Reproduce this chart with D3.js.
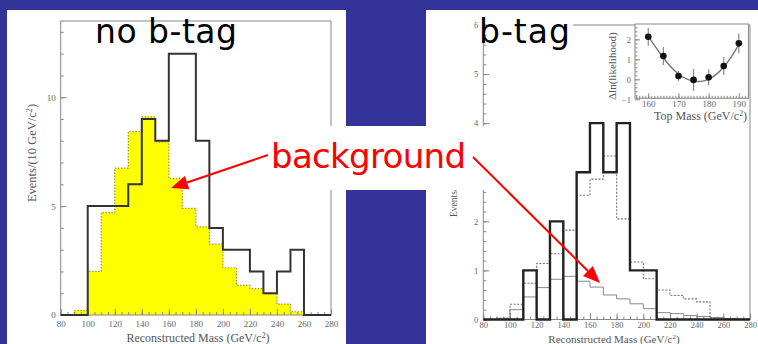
<!DOCTYPE html>
<html lang="en">
<head>
<meta charset="UTF-8">
<title>Reconstructed top mass: no b-tag / b-tag</title>
<script src="https://d3js.org/d3.v7.min.js"></script>
<style>
  body { margin: 0; background: #333399; }
  svg { display: block; }
  .tick text { font-family: "Liberation Serif", "DejaVu Serif", serif; fill: #666; }
  .tick line { stroke: #888; }
  .serif { font-family: "Liberation Serif", "DejaVu Serif", serif; fill: #555; }
  .comic { font-family: "Comic Sans MS", "DejaVu Sans", sans-serif; }
</style>
</head>
<body>
<svg id="chart" width="758" height="344"></svg>
<script>
// bin edges, 10 GeV/c^2 wide
var binEdges = [80, 90, 100, 110, 120, 130, 140, 150, 160, 170, 180, 190, 200, 210, 220, 230, 240, 250, 260, 270, 280];

// left: no b-tag
var noTagData = [0, 0, 5, 5, 5, 6, 9, 8, 12, 12, 8, 4, 3, 3, 2, 1, 2, 3, 0, 0];
var noTagBkg  = [0, 0.2, 2.0, 4.7, 6.74, 8.42, 9.1, 7.95, 6.27, 4.9, 4.05, 3.25, 2.17, 1.36, 1.21, 0.98, 0.5, 0.15, 0, 0];

// right: b-tag
var tagData     = [0, 0, 0, 1, 0, 2, 0, 3, 4, 3, 4, 1, 1, 0, 0, 0, 0, 0, 0, 0];
var tagExpected = [0, 0.03, 0.31, 0.74, 1.14, 1.34, 1.82, 2.53, 2.86, 3.33, 2.05, 1.17, 0.83, 0.6, 0.49, 0.42, 0.36, 0.02, 0.01, 0];
var tagBkg      = [0, 0.01, 0.2, 0.46, 0.65, 0.82, 0.88, 0.78, 0.66, 0.5, 0.42, 0.32, 0.22, 0.14, 0.12, 0.08, 0.06, 0.04, 0.02, 0.01];

// inset: likelihood scan
var scanMass  = [160, 165, 170, 175, 180, 185, 190];
var scanValue = [2.13, 1.17, 0.17, -0.03, 0.1, 0.67, 1.8];
var scanError = [0.45, 0.45, 0.25, 0.55, 0.4, 0.45, 0.5];
var fitMass   = [160, 162.5, 165, 167.5, 170, 172.5, 175, 177.5, 180, 182.5, 185, 187.5, 190];
var fitValue  = [2.15, 1.6, 1.08, 0.62, 0.27, 0.03, -0.09, -0.1, 0.0, 0.25, 0.62, 1.12, 1.75];

// ticks
var massTicks   = [80, 100, 120, 140, 160, 180, 200, 220, 240, 260, 280];
var leftYTicks  = [0, 5, 10];
var rightYTicks = [0, 1, 2, 3, 4, 5, 6];
var insetXTicks = [160, 170, 180, 190];
var insetYTicks = [-1, 0, 1, 2];

var svg = d3.select("#chart");
var fmt = d3.format("d");

// slide background + white panels
svg.append("rect").attr("width", 758).attr("height", 344).attr("fill", "#333399");
svg.append("rect").attr("x", 7).attr("y", 10).attr("width", 339).attr("height", 334).attr("fill", "#fff");
svg.append("rect").attr("x", 426).attr("y", 10).attr("width", 332).attr("height", 334).attr("fill", "#fff");

function histPoints(values) {
    var pts = [[binEdges[0], 0]];
    values.forEach(function(v, i) {
        pts.push([binEdges[i], v], [binEdges[i + 1], v]);
    });
    pts.push([binEdges[binEdges.length - 1], 0]);
    return pts;
}

function drawAxes(x, y, opt) {
    var g = svg.append("g");
    g.append("g")
        .attr("transform", "translate(0," + y.range()[0] + ")")
        .call(d3.axisBottom(x).tickValues(d3.range(80, 281, 5)).tickSize(-3).tickFormat(""))
        .call(function(s) { s.select(".domain").remove(); });
    g.append("g")
        .attr("transform", "translate(0," + y.range()[0] + ")")
        .call(d3.axisBottom(x).tickValues(massTicks).tickSize(-6).tickPadding(opt.xPad).tickFormat(fmt))
        .call(function(s) { s.select(".domain").remove(); })
        .selectAll("text").attr("font-size", opt.fs);
    g.append("g")
        .attr("transform", "translate(" + x.range()[0] + ",0)")
        .call(d3.axisLeft(y).tickValues(opt.yMinor).tickSize(-3).tickFormat(""))
        .call(function(s) { s.select(".domain").remove(); });
    g.append("g")
        .attr("transform", "translate(" + x.range()[0] + ",0)")
        .call(d3.axisLeft(y).tickValues(opt.yMajor).tickSize(-6).tickPadding(5).tickFormat(fmt))
        .call(function(s) { s.select(".domain").remove(); })
        .selectAll("text").attr("font-size", opt.fs);
    g.append("rect")
        .attr("x", x.range()[0]).attr("y", y.range()[1])
        .attr("width", x.range()[1] - x.range()[0])
        .attr("height", y.range()[0] - y.range()[1])
        .attr("fill", "none").attr("stroke", "#888");
}

function axisTitle(x, y, rot, anchor, fs, label) {
    var t = svg.append("text").attr("class", "serif")
        .attr("transform", "translate(" + x + "," + y + ")" + (rot ? " rotate(-90)" : ""))
        .attr("text-anchor", anchor).attr("font-size", fs);
    t.append("tspan").text(label);
    t.append("tspan").attr("dy", -fs * 0.35).attr("font-size", fs * 0.65).text("2");
    t.append("tspan").attr("dy", fs * 0.35).text(")");
}

// ---------- left: no b-tag ----------
var xL = d3.scaleLinear().domain([80, 280]).range([60.7, 331]);
var yL = d3.scaleLinear().domain([0, 13.5]).range([315, 21]);

var lineL = d3.line().x(function(d) { return xL(d[0]); }).y(function(d) { return yL(d[1]); });
var areaL = d3.area().x(function(d) { return xL(d[0]); }).y0(yL(0)).y1(function(d) { return yL(d[1]); });

svg.append("path").datum(histPoints(noTagBkg)).attr("d", areaL).attr("fill", "#ffff00");
svg.append("path").datum(histPoints(noTagBkg)).attr("d", lineL)
    .attr("fill", "none").attr("stroke", "#9c9a3c").attr("stroke-width", 1.2).attr("stroke-dasharray", "1.5,1.5");

drawAxes(xL, yL, { fs: 9, xPad: 6, yMinor: d3.range(0, 14, 1), yMajor: leftYTicks });

svg.append("path").datum(histPoints(noTagData)).attr("d", lineL)
    .attr("fill", "none").attr("stroke", "#333").attr("stroke-width", 2);

axisTitle(198, 342, false, "middle", 12, "Reconstructed Mass (GeV/c");
axisTitle(36, 153, true, "middle", 12.5, "Events/(10 GeV/c");

// ---------- right: b-tag ----------
var xR = d3.scaleLinear().domain([80, 280]).range([483.3, 750]);
var yR = d3.scaleLinear().domain([0, 6]).range([319.5, 25]);
var lineR = d3.line().x(function(d) { return xR(d[0]); }).y(function(d) { return yR(d[1]); });

drawAxes(xR, yR, { fs: 8.5, xPad: 2, yMinor: d3.range(0, 6.01, 0.2), yMajor: rightYTicks });

svg.append("path").datum(histPoints(tagBkg)).attr("d", lineR)
    .attr("fill", "none").attr("stroke", "#888").attr("stroke-width", 1);
svg.append("path").datum(histPoints(tagExpected)).attr("d", lineR)
    .attr("fill", "none").attr("stroke", "#777").attr("stroke-width", 1.1).attr("stroke-dasharray", "2,1.5");
svg.append("path").datum(histPoints(tagData)).attr("d", lineR)
    .attr("fill", "none").attr("stroke", "#222").attr("stroke-width", 2.4);

axisTitle(614, 343, false, "middle", 11, "Reconstructed Mass (GeV/c");
axisTitle(457, 217, true, "start", 9.5, "Events/(10 GeV/c");

// ---------- inset ----------
var xI = d3.scaleLinear().domain([155.6, 193.2]).range([635, 748.5]);
var yI = d3.scaleLinear().domain([-0.95, 2.77]).range([98.3, 24]);

svg.append("rect").attr("x", 635).attr("y", 24).attr("width", 113.5).attr("height", 74.3).attr("fill", "#fff");
var gi = svg.append("g");
gi.append("g").attr("transform", "translate(0," + yI.range()[0] + ")")
    .call(d3.axisBottom(xI).tickValues(d3.range(156, 194, 1)).tickSize(-2.5).tickFormat(""))
    .call(function(s) { s.select(".domain").remove(); });
gi.append("g").attr("transform", "translate(0," + yI.range()[0] + ")")
    .call(d3.axisBottom(xI).tickValues(insetXTicks).tickSize(-5).tickPadding(2).tickFormat(fmt))
    .call(function(s) { s.select(".domain").remove(); })
    .selectAll("text").attr("font-size", 9);
gi.append("g").attr("transform", "translate(635,0)")
    .call(d3.axisLeft(yI).tickValues(d3.range(-0.8, 2.75, 0.2)).tickSize(-2.5).tickFormat(""))
    .call(function(s) { s.select(".domain").remove(); });
gi.append("g").attr("transform", "translate(635,0)")
    .call(d3.axisLeft(yI).tickValues(insetYTicks).tickSize(-5).tickPadding(4).tickFormat(fmt))
    .call(function(s) { s.select(".domain").remove(); })
    .selectAll("text").attr("font-size", 8.5);
gi.append("rect").attr("x", 635).attr("y", 24).attr("width", 113.5).attr("height", 74.3)
    .attr("fill", "none").attr("stroke", "#888");

gi.append("path").datum(fitMass.map(function(m, i) { return [m, fitValue[i]]; }))
    .attr("d", d3.line().curve(d3.curveCatmullRom)
        .x(function(d) { return xI(d[0]); }).y(function(d) { return yI(d[1]); }))
    .attr("fill", "none").attr("stroke", "#777").attr("stroke-width", 1.4);

gi.selectAll(".err").data(scanMass).enter().append("line")
    .attr("x1", function(d) { return xI(d); }).attr("x2", function(d) { return xI(d); })
    .attr("y1", function(d, i) { return yI(scanValue[i] - scanError[i]); })
    .attr("y2", function(d, i) { return yI(scanValue[i] + scanError[i]); })
    .attr("stroke", "#888").attr("stroke-width", 1.2);
gi.selectAll(".pt").data(scanMass).enter().append("circle")
    .attr("cx", function(d) { return xI(d); })
    .attr("cy", function(d, i) { return yI(scanValue[i]); })
    .attr("r", 3.3).attr("fill", "#111");

svg.append("text").attr("class", "serif")
    .attr("transform", "translate(616,100) rotate(-90)")
    .attr("font-size", 11).text("\u0394ln(likelihood)");
axisTitle(654, 120, false, "start", 12, "Top Mass (GeV/c");

// ---------- annotations ----------
svg.append("rect").attr("x", 487).attr("y", 13).attr("width", 86).attr("height", 36).attr("fill", "#fff");
svg.append("text").attr("class", "comic").attr("x", 95).attr("y", 43)
    .attr("font-size", 33).attr("textLength", 142).text("no b-tag");
svg.append("text").attr("class", "comic").attr("x", 479).attr("y", 43)
    .attr("font-size", 33).attr("textLength", 91).text("b-tag");

svg.append("rect").attr("x", 262).attr("y", 126).attr("width", 243).attr("height", 64).attr("fill", "#fff");
svg.append("text").attr("class", "comic").attr("x", 271).attr("y", 168)
    .attr("font-size", 34).attr("fill", "#ff0000").attr("textLength", 195).text("background");

function arrow(x0, y0, x1, y1) {
    var a = Math.atan2(y1 - y0, x1 - x0), len = 17, w = 7;
    var bx = x1 - len * Math.cos(a), by = y1 - len * Math.sin(a);
    svg.append("line").attr("x1", x0).attr("y1", y0).attr("x2", bx).attr("y2", by)
        .attr("stroke", "#ff0000").attr("stroke-width", 2);
    svg.append("path")
        .attr("d", "M" + x1 + "," + y1 +
            "L" + (bx + w * Math.sin(a)) + "," + (by - w * Math.cos(a)) +
            "L" + (bx - w * Math.sin(a)) + "," + (by + w * Math.cos(a)) + "Z")
        .attr("fill", "#ff0000");
}
arrow(268, 155, 171, 188);
arrow(473, 157, 600, 283);
</script>
</body>
</html>
